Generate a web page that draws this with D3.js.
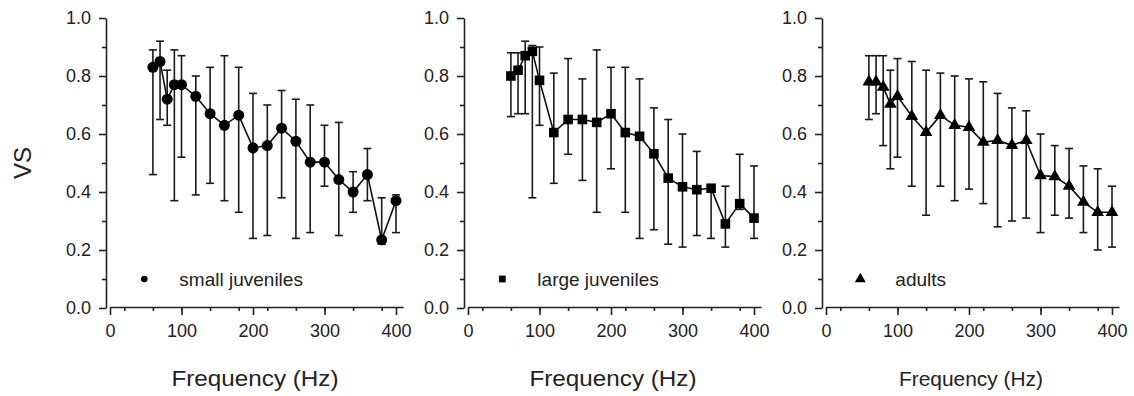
<!DOCTYPE html>
<html>
<head>
<meta charset="utf-8">
<title>VS vs frequency</title>
<script src="https://d3js.org/d3.v7.min.js"></script>
<style>
  body { margin: 0; background: #fff; }
  svg { display: block; font-family: "Liberation Sans", Arial, sans-serif; }
  .axis path, .axis line { stroke: #222; stroke-width: 1.6; }
  .axis text { fill: #222; font-size: 18px; font-family: "Liberation Sans", Arial, sans-serif; }
</style>
</head>
<body>
<div id="chart"></div>
<script>
// frequencies (Hz)
const freqs = [60, 70, 80, 90, 100, 120, 140, 160, 180, 200, 220, 240, 260, 280, 300, 320, 340, 360, 380, 400];

// small juveniles
const smallMean = [0.83, 0.85, 0.72, 0.77, 0.77, 0.73, 0.67, 0.63, 0.665, 0.552, 0.56, 0.62, 0.575, 0.503, 0.503, 0.443, 0.40, 0.46, 0.235, 0.37];
const smallHi   = [0.89, 0.92, 0.82, 0.89, 0.87, 0.80, 0.83, 0.87, 0.83, 0.74, 0.70, 0.75, 0.72, 0.70, 0.63, 0.64, 0.47, 0.55, 0.38, 0.39];
const smallLo   = [0.46, 0.65, 0.63, 0.37, 0.52, 0.39, 0.43, 0.37, 0.33, 0.24, 0.25, 0.38, 0.24, 0.26, 0.42, 0.25, 0.33, 0.37, 0.22, 0.26];

// large juveniles
const largeMean = [0.80, 0.82, 0.87, 0.885, 0.785, 0.605, 0.65, 0.65, 0.64, 0.67, 0.605, 0.592, 0.532, 0.448, 0.418, 0.408, 0.413, 0.29, 0.36, 0.31];
const largeHi   = [0.88, 0.88, 0.92, 0.905, 0.90, 0.81, 0.86, 0.79, 0.89, 0.83, 0.83, 0.79, 0.69, 0.65, 0.60, 0.54, 0.42, 0.42, 0.53, 0.49];
const largeLo   = [0.66, 0.67, 0.67, 0.38, 0.63, 0.43, 0.53, 0.44, 0.33, 0.48, 0.33, 0.24, 0.27, 0.22, 0.21, 0.25, 0.24, 0.21, 0.34, 0.24];

// adults
const adultMean = [0.78, 0.78, 0.762, 0.703, 0.73, 0.661, 0.606, 0.664, 0.63, 0.623, 0.572, 0.578, 0.561, 0.578, 0.457, 0.453, 0.42, 0.365, 0.33, 0.33];
const adultHi   = [0.87, 0.87, 0.87, 0.82, 0.86, 0.85, 0.82, 0.81, 0.80, 0.79, 0.78, 0.74, 0.69, 0.68, 0.60, 0.56, 0.55, 0.49, 0.48, 0.42];
const adultLo   = [0.65, 0.67, 0.56, 0.48, 0.52, 0.42, 0.32, 0.42, 0.37, 0.41, 0.36, 0.28, 0.30, 0.31, 0.26, 0.32, 0.31, 0.26, 0.20, 0.21];

const panels = [
  { label: "small juveniles", mean: smallMean, hi: smallHi, lo: smallLo, symbol: d3.symbolCircle, size: 95, legSize: 34, x0: 110, title: 22, titleLen: 167 },
  { label: "large juveniles", mean: largeMean, hi: largeHi, lo: largeLo, symbol: d3.symbolSquare, size: 92, legSize: 46, x0: 468, title: 22, titleLen: 167 },
  { label: "adults",          mean: adultMean, hi: adultHi, lo: adultLo, symbol: d3.symbolTriangle, size: 70, legSize: 52, x0: 826, title: 20, titleLen: 144 }
];

const width = 1134, height = 396;
const yTop = 18, yBot = 308;
const pxPerHz = 286 / 400;

const svg = d3.select("#chart").append("svg").attr("width", width).attr("height", height);

const y = d3.scaleLinear().domain([0, 1]).range([yBot, yTop]);

svg.append("text")
  .attr("transform", `translate(31,${(yTop + yBot) / 2}) rotate(-90)`)
  .attr("text-anchor", "middle")
  .attr("font-size", 24)
  .attr("fill", "#222")
  .text("VS");

panels.forEach(p => {
  const x = d3.scaleLinear().domain([0, 410]).range([p.x0, p.x0 + 410 * pxPerHz]);
  const g = svg.append("g");
  const yAxisX = p.x0 - 4;

  // y axis: minor then major
  g.append("g").attr("class", "axis").attr("transform", `translate(${yAxisX},0)`)
    .call(d3.axisLeft(y).tickValues(d3.range(0.1, 1, 0.2)).tickSize(4).tickFormat(""))
    .call(s => s.select(".domain").remove());
  g.append("g").attr("class", "axis").attr("transform", `translate(${yAxisX},0)`)
    .call(d3.axisLeft(y).tickValues(d3.range(0, 1.01, 0.2)).tickSize(7).tickSizeOuter(0).tickPadding(8).tickFormat(d3.format(".1f")));

  // x axis: minor then major
  g.append("g").attr("class", "axis").attr("transform", `translate(0,${yBot - 1})`)
    .call(d3.axisBottom(x).tickValues(d3.range(20, 401, 40)).tickSize(4).tickFormat(""))
    .call(s => s.select(".domain").remove());
  g.append("g").attr("class", "axis").attr("transform", `translate(0,${yBot - 1})`)
    .call(d3.axisBottom(x).tickValues([0, 100, 200, 300, 400]).tickSize(8).tickSizeOuter(0).tickPadding(9));

  const pts = freqs.map((f, i) => ({ f, m: p.mean[i], hi: p.hi[i], lo: p.lo[i] }));

  // error bars
  const eb = g.append("g").attr("stroke", "#1a1a1a").attr("stroke-width", 1.6);
  eb.selectAll("line.v").data(pts).enter().append("line")
    .attr("x1", d => x(d.f)).attr("x2", d => x(d.f))
    .attr("y1", d => y(d.hi)).attr("y2", d => y(d.lo));
  eb.selectAll("line.t").data(pts).enter().append("line")
    .attr("x1", d => x(d.f) - 4).attr("x2", d => x(d.f) + 4)
    .attr("y1", d => y(d.hi)).attr("y2", d => y(d.hi));
  eb.selectAll("line.b").data(pts).enter().append("line")
    .attr("x1", d => x(d.f) - 4).attr("x2", d => x(d.f) + 4)
    .attr("y1", d => y(d.lo)).attr("y2", d => y(d.lo));

  // connecting line
  g.append("path").datum(pts)
    .attr("fill", "none").attr("stroke", "#111").attr("stroke-width", 1.6)
    .attr("d", d3.line().x(d => x(d.f)).y(d => y(d.m)));

  // markers
  const sym = d3.symbol().type(p.symbol).size(p.size);
  g.selectAll("path.mk").data(pts).enter().append("path")
    .attr("transform", d => `translate(${x(d.f)},${y(d.m)})`)
    .attr("d", sym).attr("fill", "#000");

  // legend
  g.append("path")
    .attr("transform", `translate(${x(48)},${y(0.1)})`)
    .attr("d", d3.symbol().type(p.symbol).size(p.legSize)).attr("fill", "#000");
  g.append("text")
    .attr("x", x(97)).attr("y", y(0.1)).attr("dy", "0.35em")
    .attr("font-size", 19).attr("fill", "#222")
    .text(p.label);

  // x title
  g.append("text")
    .attr("x", x(200) + 2).attr("y", 386)
    .attr("text-anchor", "middle")
    .attr("font-size", p.title).attr("fill", "#222")
    .attr("textLength", p.titleLen).attr("lengthAdjust", "spacingAndGlyphs")
    .text("Frequency (Hz)");
});
</script>
</body>
</html>
